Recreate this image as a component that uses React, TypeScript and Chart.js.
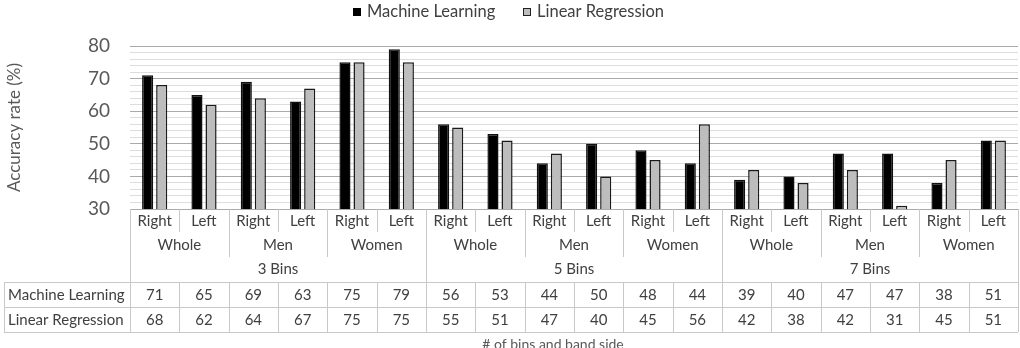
import React, { useEffect, useRef } from "react";
import { Chart, registerables } from "chart.js";

Chart.register(...registerables);

const binLabels = ["3 Bins", "5 Bins", "7 Bins"];
const groupLabels = ["Whole", "Men", "Women"];
const sideLabels = ["Right", "Left"];
const seriesNames = ["Machine Learning", "Linear Regression"];
const mlValues = [71, 65, 69, 63, 75, 79, 56, 53, 44, 50, 48, 44, 39, 40, 47, 47, 38, 51];
const lrValues = [68, 62, 64, 67, 75, 75, 55, 51, 47, 40, 45, 56, 42, 38, 42, 31, 45, 51];
const yMin = 30;
const yMax = 80;
const yTitle = "Accuracy rate (%)";
const xTitle = "# of bins and band side";

const categories: string[] = [];
binLabels.forEach((b) =>
  groupLabels.forEach((g) => sideLabels.forEach((s) => categories.push(`${b}|${g}|${s}`)))
);

const FONT = "Lato, 'Liberation Sans', sans-serif";
const TEXT = "#404040";
const LINE = "#c8c8c8";
const ML_COLOR = "#000000";
const LR_COLOR = "#bdbdbd";

const tablePlugin = {
  id: "multiTable",
  afterDraw(chart: any) {
    const { ctx, chartArea, scales } = chart;
    const xs = scales.x;
    const n = categories.length;
    const centers = categories.map((_, i) => xs.getPixelForValue(i));
    const edge = (i: number) => (i === 0 ? chartArea.left : i === n ? chartArea.right : (centers[i - 1] + centers[i]) / 2);
    const b = chartArea.bottom;
    const r1 = b + 12, r1End = b + 23;
    const r2 = b + 36, r2End = b + 48;
    const r3 = b + 60;
    const tTop = b + 73, tMid = b + 98, tBot = b + 123;
    const tLeft = 4;

    ctx.save();
    ctx.strokeStyle = LINE;
    ctx.lineWidth = 1;
    const vline = (x: number, y0: number, y1: number) => {
      ctx.beginPath();
      ctx.moveTo(Math.round(x) + 0.5, y0);
      ctx.lineTo(Math.round(x) + 0.5, y1);
      ctx.stroke();
    };
    const hline = (x0: number, x1: number, y: number) => {
      ctx.beginPath();
      ctx.moveTo(x0, Math.round(y) + 0.5);
      ctx.lineTo(x1, Math.round(y) + 0.5);
      ctx.stroke();
    };
    for (let i = 0; i <= n; i++) {
      const x = edge(i);
      if (i % 6 === 0) vline(x, b, tBot);
      else if (i % 2 === 0) {
        vline(x, b, r2End);
        vline(x, tTop, tBot);
      } else {
        vline(x, b, r1End);
        vline(x, tTop, tBot);
      }
    }
    hline(tLeft, chartArea.right, tTop);
    hline(tLeft, chartArea.right, tMid);
    hline(tLeft, chartArea.right, tBot);
    vline(tLeft, tTop, tBot);

    ctx.fillStyle = TEXT;
    ctx.textAlign = "center";
    ctx.textBaseline = "middle";
    ctx.font = `15px ${FONT}`;
    categories.forEach((c, i) => {
      const side = c.split("|")[2];
      ctx.fillText(side, centers[i], r1);
    });
    for (let gi = 0; gi < binLabels.length * groupLabels.length; gi++) {
      const x = (edge(gi * 2) + edge(gi * 2 + 2)) / 2;
      ctx.fillText(groupLabels[gi % groupLabels.length], x, r2);
    }
    binLabels.forEach((bl, bi) => {
      const x = (edge(bi * 6) + edge(bi * 6 + 6)) / 2;
      ctx.fillText(bl, x, r3);
    });
    const rows = [mlValues, lrValues];
    const rowY = [(tTop + tMid) / 2, (tMid + tBot) / 2];
    rows.forEach((vals, ri) => {
      vals.forEach((v, i) => ctx.fillText(String(v), centers[i], rowY[ri] + 1));
    });
    ctx.textAlign = "left";
    seriesNames.forEach((nm, ri) => ctx.fillText(nm, tLeft + 4, rowY[ri] + 1));

    ctx.fillStyle = "#595959";
    ctx.textAlign = "center";
    ctx.font = `14px ${FONT}`;
    ctx.fillText(xTitle, 553, b + 135);

    ctx.save();
    ctx.translate(15, (chartArea.top + chartArea.bottom) / 2);
    ctx.rotate(-Math.PI / 2);
    ctx.font = `17px ${FONT}`;
    ctx.fillStyle = "#595959";
    ctx.fillText(yTitle, 0, 0);
    ctx.restore();

    ctx.font = `16.5px ${FONT}`;
    ctx.textAlign = "left";
    const ly = 12;
    ctx.fillStyle = ML_COLOR;
    ctx.fillRect(353, ly - 4, 8, 8);
    ctx.fillStyle = TEXT;
    ctx.fillText(seriesNames[0], 367, ly);
    ctx.fillStyle = LR_COLOR;
    ctx.fillRect(523, ly - 4, 8, 8);
    ctx.strokeStyle = "#222";
    ctx.strokeRect(523.5, ly - 3.5, 7, 7);
    ctx.fillStyle = TEXT;
    ctx.fillText(seriesNames[1], 537, ly);
    ctx.restore();
  },
};

export default function App() {
  const ref = useRef<HTMLCanvasElement | null>(null);
  useEffect(() => {
    document.body.style.margin = "0";
    const chart = new Chart(ref.current as HTMLCanvasElement, {
      type: "bar",
      data: {
        labels: categories,
        datasets: [
          {
            label: seriesNames[0],
            data: mlValues,
            backgroundColor: ML_COLOR,
            borderColor: "#111",
            borderWidth: 1.5,
            barPercentage: 0.79,
            categoryPercentage: 0.57,
          },
          {
            label: seriesNames[1],
            data: lrValues,
            backgroundColor: LR_COLOR,
            borderColor: "#1a1a1a",
            borderWidth: 1.5,
            barPercentage: 0.79,
            categoryPercentage: 0.57,
          },
        ],
      },
      options: {
        animation: false,
        responsive: false,
        layout: { padding: { top: 46, bottom: 139, right: 2, left: 0 } },
        plugins: { legend: { display: false }, tooltip: { enabled: false } },
        scales: {
          x: { display: false },
          y: {
            min: yMin,
            max: yMax,
            border: { display: false },
            afterFit: (s: any) => {
              s.width = 130;
            },
            ticks: {
              stepSize: 2,
              autoSkip: false,
              padding: 20,
              color: "#595959",
              font: { family: FONT, size: 19 },
              callback: (v: any) => (Number(v) % 10 === 0 ? String(v) : ""),
            },
            grid: {
              drawTicks: false,
              color: (c: any) => (c.tick && c.tick.value % 10 === 0 ? "#aaaaaa" : "#dddddd"),
              lineWidth: 1,
            },
          },
        },
      },
      plugins: [tablePlugin],
    });
    return () => chart.destroy();
  }, []);
  return (
    <div style={{ position: "fixed", left: 0, top: 0, width: 1020, height: 348 }}>
      <canvas ref={ref} width={1020} height={348} />
    </div>
  );
}
